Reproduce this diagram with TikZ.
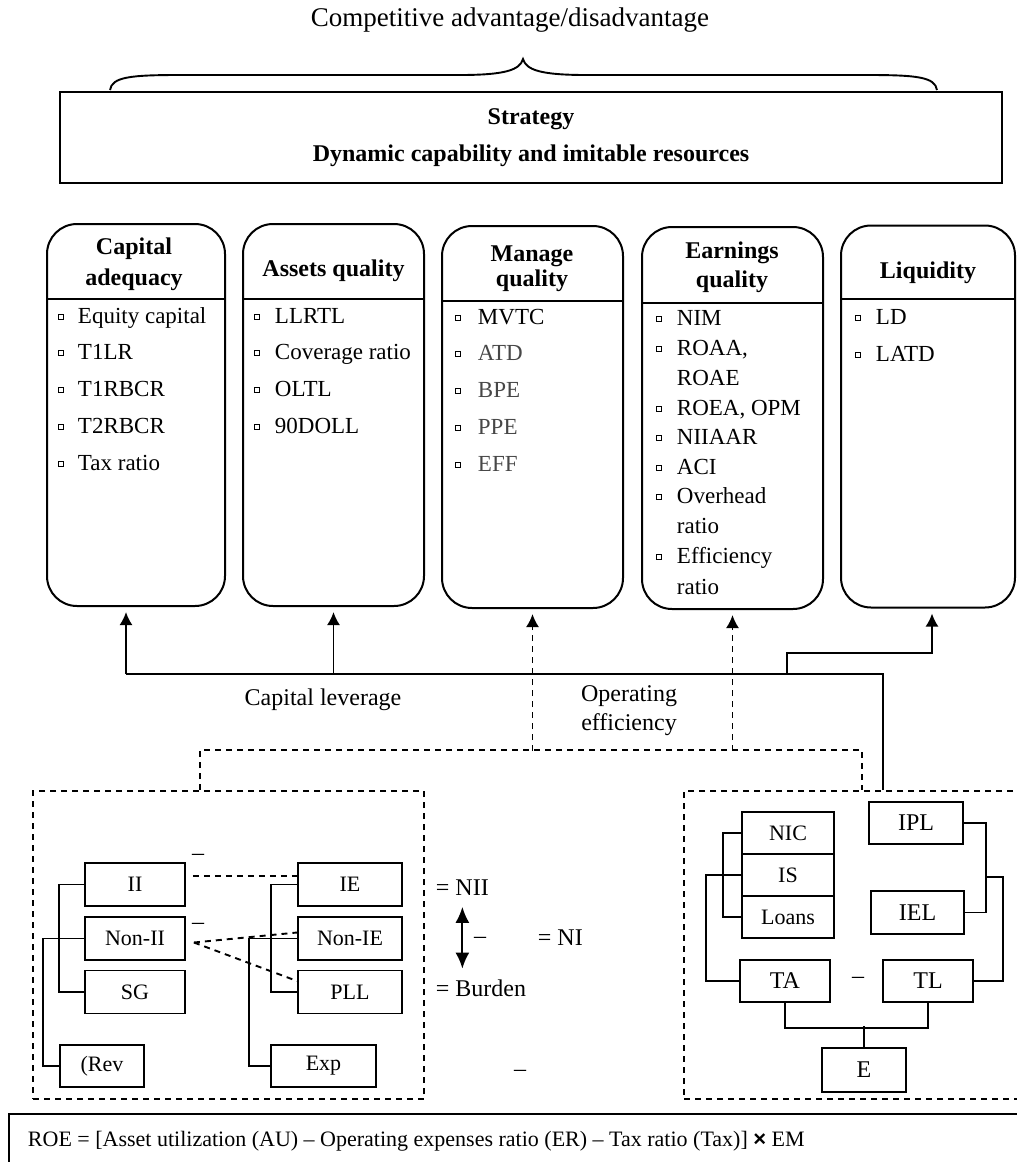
\documentclass[tikz,border=0pt]{standalone}
\usepackage{fontspec}
\setmainfont{Liberation Serif}
\newfontfamily\sansx{Liberation Sans}
\usetikzlibrary{arrows.meta}

\tikzset{
  qbox/.style={draw, rounded corners=15pt, line width=1pt, minimum height=191pt, inner sep=0pt},
  head/.style={font=\fontsize{12}{#1}\selectfont\bfseries, align=center, inner sep=0pt},
  head/.default=14.5,
  item/.style={anchor=base west, inner sep=0pt, font=\fontsize{11.5}{13}\selectfont},
  bul/.style={line width=0.4pt},
  sbox/.style={draw, line width=0.9pt, inner sep=0pt, minimum height=21.5pt, font=\fontsize{11}{13}\selectfont},
  bigtxt/.style={font=\fontsize{12}{14}\selectfont},
  grp/.style={draw, dash pattern=on 3pt off 2.5pt, line width=0.9pt, inner sep=0pt, minimum height=154pt},
  lbl/.style={inner sep=0pt, font=\fontsize{12}{14.5}\selectfont},
  arr/.style={-{Latex[length=6.5pt,width=6.5pt]}, shorten >=2.5pt},
  dline/.style={dash pattern=on 3pt off 2.5pt},
}

\begin{document}
\begin{tikzpicture}[x=0.5pt,y=-0.5pt,line width=0.95pt]
 \useasboundingbox (0,0) rectangle (1017,1162);
 \clip (0,0) rectangle (1017,1162);

 % top: brace and strategy
 \node[lbl, font=\fontsize{13.5}{16}\selectfont] (comp) at (510,20) {Competitive advantage/disadvantage};
 \draw (110,90) .. controls (112,77) and (130,75) .. (180,75) -- (460,75)
   .. controls (505,75) and (520,70) .. (523,59) .. controls (526,70) and (541,75) .. (586,75)
   -- (867,75) .. controls (917,75) and (935,77) .. (937,90);
 \node[draw, line width=1pt, minimum width=471pt, minimum height=45.5pt, align=center,
   font=\fontsize{12}{14.4}\selectfont\bfseries] (strat) at (531,137.5)
   {Strategy\\[4pt]Dynamic capability and imitable resources};

 % CAMEL boxes
 \node[qbox, minimum width=89pt] (cap) at (136,415) {};
 \node[qbox, minimum width=90.5pt] (asset) at (333.5,415) {};
 \node[qbox, minimum width=90.5pt] (manage) at (532.5,417) {};
 \node[qbox, minimum width=90.5pt] (earn) at (732.5,418) {};
 \node[qbox, minimum width=87pt] (liq) at (928,416.5) {};
 \draw (47,299) -- (226,299);
 \draw (243,299) -- (424,299);
 \draw (442,301) -- (623,301);
 \draw (642,303) -- (823,303);
 \draw (841,299) -- (1015,299);

 \node[head=15.5] (caphd) at (134,264.5) {Capital\\adequacy};
 \node[head] (assethd) at (333.5,271) {Assets quality};
 \node[head=12.5] (managehd) at (532,269) {Manage\\quality};
 \node[head] (earnhd) at (732,267.5) {Earnings\\quality};
 \node[head] (liqhd) at (928,273) {Liquidity};

 \foreach \y/\t in {317/Equity capital, 353/T1LR, 390/T1RBCR, 427/T2RBCR, 464/Tax ratio} {
  \node[item] at (77,\y+6) {\t};
  \draw[bul] (61,\y) ++(-2.5,-2.5) rectangle ++(5,5);
 }
 \foreach \y/\t in {317/LLRTL, 353/Coverage ratio, 390/OLTL, 427/90DOLL} {
  \node[item] at (274,\y+6) {\t};
  \draw[bul] (257,\y) ++(-2.5,-2.5) rectangle ++(5,5);
 }
 \foreach \y/\t/\c in {318/MVTC/black, 354/ATD/black!72, 391/BPE/black!72, 428/PPE/black!72, 465/EFF/black!72} {
  \node[item, text=\c] at (477,\y+6) {\t};
  \draw[bul] (458,\y) ++(-2.5,-2.5) rectangle ++(5,5);
 }
 \foreach \y/\t in {319/NIM, 349/{ROAA,}, 409/{ROEA, OPM}, 438/NIIAAR, 468/ACI, 497/Overhead, 557/Efficiency} {
  \node[item] at (676,\y+6) {\t};
  \draw[bul] (659,\y) ++(-2.5,-2.5) rectangle ++(5,5);
 }
 \foreach \y/\t in {379/ROAE, 527/ratio, 588/ratio}
  \node[item] at (676,\y+6) {\t};
 \foreach \y/\t in {318/LD, 355/LATD} {
  \node[item] at (875,\y+6) {\t};
  \draw[bul] (858,\y) ++(-2.5,-2.5) rectangle ++(5,5);
 }

 % groups
 \node[grp, minimum width=195.5pt] (leftgrp) at (228.5,945) {};
 \node[grp, minimum width=173pt] (rightgrp) at (857,945) {};

 % arrows up
 \coordinate (stop) at (0,674);
 \coordinate (dtop) at (0,751);
 \coordinate (capin) at ([xshift=-5pt]cap.south);
 \coordinate (ljoin) at (787,674);
 \draw ([xshift=13pt]rightgrp.north) |- (capin |- stop);
 \draw[arr] (capin |- stop) -- (capin);
 \draw[arr] (asset.south |- stop) -- (asset.south);
 \draw[arr] (ljoin) -- ++(0,-21) -| ([xshift=2pt]liq.south);
 \draw[dline] ([xshift=-14.25pt]leftgrp.north) -- ++(0,-40) -| ([xshift=2.5pt]rightgrp.north);
 \draw[dline, arr] (manage.south |- dtop) -- (manage.south);
 \draw[dline, arr] (earn.south |- dtop) -- (earn.south);
 \node[lbl] (caplev) at (323,700) {Capital leverage};
 \node[lbl, align=center] (opeff) at (629,710.5) {Operating\\efficiency};

 % income side
 \node[sbox, minimum width=50pt] (ii) at (135,884.5) {II};
 \node[sbox, minimum width=50pt] (nonii) at (135,938.5) {Non-II};
 \node[sbox, minimum width=50pt] (sg) at (135,992) {SG};
 \node[sbox, minimum width=42pt, minimum height=21pt] (rev) at (102,1066) {(Rev};
 \node[sbox, minimum width=52pt] (ie) at (350,884.5) {IE};
 \node[sbox, minimum width=52pt] (nonie) at (350,938.5) {Non-IE};
 \node[sbox, minimum width=52pt] (pll) at (350,992) {PLL};
 \node[sbox, minimum width=52.5pt, minimum height=21pt] (exp) at (323.5,1066) {Exp};
 \draw (ii.west) -- ++(-25,0) |- (sg.west);
 \draw (nonii.west) -- ++(-41,0) |- (rev.west);
 \draw (ie.west) -- ++(-26,0) |- (pll.west);
 \draw (nonie.west) -- ++(-48,0) |- (exp.west);
 \draw[dline] ([xshift=3.5pt,yshift=4.25pt]ii.east) -- ([yshift=4.25pt]ie.west);
 \draw[dline] ([xshift=4pt,yshift=-2pt]nonii.east) -- ([yshift=3pt]nonie.west);
 \draw[dline] ([xshift=4pt,yshift=-2pt]nonii.east) -- ([yshift=5.5pt]pll.west);
 \node[lbl] (m1) at (198,857) {–};
 \node[lbl] (m2) at (198,926) {–};
 \node[lbl, anchor=west] (nii) at (435,888) {= NII};
 \node[lbl, anchor=west] (burden) at (435,988) {= Burden};
 \draw[{Latex[length=8pt,width=7pt]}-{Latex[length=8pt,width=7pt]}, line width=1pt,
   shorten <=5pt, shorten >=5pt] (nii.south) -- (nii.south |- burden.north);
 \node[lbl] (m3) at (480,940) {–};
 \node[lbl, anchor=west] (ni) at (537,938) {= NI};
 \node[lbl] (m4) at (520,1073) {–};

 % balance side
 \node[sbox, minimum width=46pt, minimum height=21pt] (nic) at (788,833) {NIC};
 \node[sbox, minimum width=46pt, minimum height=21pt] (is) at (788,875) {IS};
 \node[sbox, minimum width=46pt, minimum height=21pt] (loans) at (788,917) {Loans};
 \node[sbox, bigtxt, minimum width=47pt, minimum height=21pt] (ipl) at (916,823) {IPL};
 \node[sbox, bigtxt, minimum width=46.5pt] (iel) at (917.5,912.5) {IEL};
 \node[sbox, bigtxt, minimum width=45pt, minimum height=21pt] (ta) at (785,981) {TA};
 \node[sbox, bigtxt, minimum width=45pt, minimum height=21pt] (tl) at (928,981) {TL};
 \node[sbox, bigtxt, minimum width=42pt, minimum height=22pt] (eqty) at (864,1070) {E};
 \node[lbl] (m5) at (858,980) {–};
 \coordinate (ipjoin) at (985,877);
 \draw (nic.west) -- ++(-18,0) |- (loans.west);
 \draw (is.west) -- ++(-35,0) |- (ta.west);
 \draw (ipl.east) -- ++(22,0) |- (iel.east);
 \draw (ipjoin) -- ++(18,0) |- (tl.east);
 \draw (ta.south) -- ++(0,25) -| (tl.south);
 \draw (eqty.north) -- ++(0,-21);

 % formula
 \node[draw, line width=1pt, anchor=north west, minimum width=515pt, minimum height=30pt] (roebox) at (8,1113) {};
 \node[lbl, anchor=west, font=\fontsize{11}{13}\selectfont] (roe) at (27,1141)
   {ROE = [Asset utilization (AU) – Operating expenses ratio (ER) – Tax ratio (Tax)] {\sansx\bfseries ×} EM};
\end{tikzpicture}
\end{document}
